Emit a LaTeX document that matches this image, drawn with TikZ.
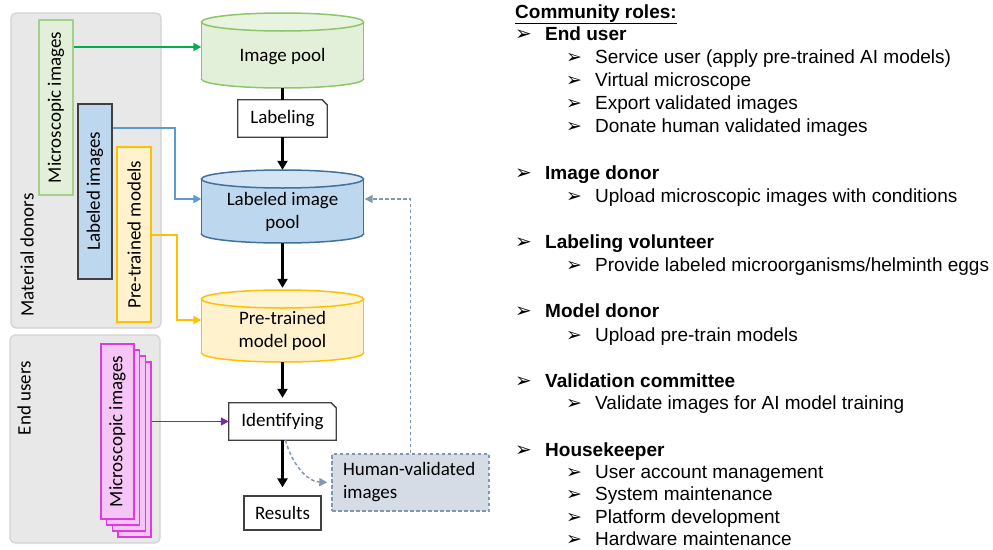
\documentclass[tikz,border=0pt]{standalone}
\usepackage{fontspec}
\setmainfont{Carlito}
\newfontfamily\arialf{Liberation Sans}
\newfontfamily\dejavuf{DejaVu Sans}
\usetikzlibrary{arrows.meta}
\definecolor{grnA}{HTML}{00B050}
\definecolor{grnF}{HTML}{E2F0D9}
\definecolor{grnT}{HTML}{E8F3E0}
\definecolor{grnB}{HTML}{8CC66B}
\definecolor{bluA}{HTML}{5B9BD5}
\definecolor{bluF}{HTML}{BDD7EE}
\definecolor{bluT}{HTML}{D3E4F4}
\definecolor{bluB}{HTML}{41719C}
\definecolor{yelA}{HTML}{FFC000}
\definecolor{yelF}{HTML}{FFF2CC}
\definecolor{yelT}{HTML}{FFF5D6}
\definecolor{purA}{HTML}{7030A0}
\definecolor{magF}{HTML}{F5C6F5}
\definecolor{magB}{HTML}{DC3CDC}
\definecolor{hvF}{HTML}{D6DCE5}
\definecolor{hvB}{HTML}{8497B0}
\definecolor{boxB}{HTML}{404040}
% cylinder: name, ytop, ybot, body fill, top fill, border
\newcommand\mycyl[6]{%
  \node[minimum width=162pt, minimum height={(#3-#2)*1pt}, inner sep=0pt] (#1) at (282.5,{(#2+#3)/2}) {};
  \filldraw[fill=#4, draw=#6, line width=1.5pt] (282.5,{#3-9}) ellipse [x radius=81, y radius=9];
  \fill[#4] (201.5,{#2+9}) rectangle (363.5,{#3-9});
  \draw[#6, line width=1.5pt] (201.5,{#2+9}) -- (201.5,{#3-9}) (363.5,{#2+9}) -- (363.5,{#3-9});
  \filldraw[fill=#5, draw=#6, line width=1.5pt] (282.5,{#2+9}) ellipse [x radius=81, y radius=9];
}
\newcommand\notedraw[1]{%
  \draw[line width=1.3pt, draw=boxB] (#1.south west) -- (#1.north west) -- ([xshift=-5pt]#1.north east) -- ([yshift=-5pt]#1.north east) -- (#1.south east) -- cycle;}
\newcommand\bulA[1]{\makebox[30pt][l]{\dejavuf\fontsize{20}{20}\selectfont ➢}\textbf{#1}}
\newcommand\bulB[1]{\makebox[29pt][l]{\dejavuf\fontsize{19}{19}\selectfont ➢}#1}
\begin{document}
\begin{tikzpicture}[x=1pt,y=-1pt,
  txt/.style={font=\fontsize{19}{23}\selectfont, inner sep=0pt, align=center},
  vbox/.style={rotate=90, minimum width=175pt, minimum height=34pt, inner sep=0pt, line width=1.4pt, font=\fontsize{19}{23}\selectfont},
  grp/.style={draw=gray!35, fill=gray!18, rounded corners=5pt, line width=1.2pt, inner sep=0pt},
  notebox/.style={minimum height=37pt, inner sep=0pt, font=\fontsize{19}{23}\selectfont},
  rt/.style={font=\arialf\fontsize{19}{23}\selectfont, anchor=base west, inner sep=0pt},
  blk/.style={line width=3pt, -{Triangle[length=9pt,width=10pt]}},
  colarr/.style={line width=1.7pt, -{Triangle[length=8pt,width=8pt]}},
  dsh/.style={draw=hvB, line width=1.5pt, dash pattern=on 3.5pt off 2.5pt, -{Triangle[length=8pt,width=8pt]}}]
\fill[white] (0,0) rectangle (993,549);
\useasboundingbox (0,0) rectangle (993,549);

% group boxes
\node[grp, minimum width=150pt, minimum height=315pt] (matg) at (86,170.5) {};
\node[grp, minimum width=150pt, minimum height=208pt] (endg) at (85,439) {};
\node[txt, rotate=90] (matl) at (27,255) {Material donors};
\node[txt, rotate=90] (endl) at (24,398) {End users};

% donor boxes
\node[vbox, draw=grnB!80, fill=grnF] (mic) at (56,107.5) {Microscopic images};
\node[vbox, draw=boxB, fill=bluF] (lab) at (95,191.5) {Labeled images};
\node[vbox, draw=yelA, fill=yelF] (pre) at (134,234.5) {Pre-trained models};

% end user stack
\node[vbox, minimum height=33pt, draw=magB, fill=magF] (m4) at (134.5,449.5) {};
\node[vbox, minimum height=33pt, draw=magB, fill=magF] (m3) at (128.8,443.5) {};
\node[vbox, minimum height=33pt, draw=magB, fill=magF] (m2) at (123.2,437.5) {};
\node[vbox, minimum height=33pt, draw=magB, fill=magF] (m1) at (117.5,431.5) {Microscopic images};

% cylinders
\mycyl{ipool}{13}{88}{grnF}{grnT}{grnB}
\mycyl{lpool}{170}{243}{bluF}{bluT}{bluB}
\mycyl{ppool}{290}{362}{yelF}{yelT}{yelA}
\node[txt] (ipoolt) at (282.5,57) {Image pool};
\node[txt] (lpoolt) at (282.5,212) {Labeled image\\pool};
\node[txt] (ppoolt) at (282.5,331) {Pre-trained\\model pool};

% process boxes
\node[notebox, minimum width=89pt] (lbl) at (282.5,118.5) {Labeling};
\notedraw{lbl}
\node[notebox, minimum width=107pt] (ident) at (282.5,421.5) {Identifying};
\notedraw{ident}
\node[txt, draw=boxB, line width=1.3pt, minimum width=77pt, minimum height=34pt] (res) at (282.5,513) {Results};
\node[txt, draw=hvB, fill=hvF, line width=1.4pt, dash pattern=on 3.5pt off 2.5pt, minimum width=157pt, minimum height=57pt, text width=135pt, align=left] (hv) at (410.5,482.5) {Human-validated\\images};

% black flow
\draw[line width=3pt] (ipool.south) -- (lbl.north);
\draw[blk] (lbl.south) -- (lpool.north);
\draw[blk, shorten >=2pt] (lpool.south) -- (ppool.north);
\draw[blk, shorten >=5pt] (ppool.south) -- (ident.north);
\draw[blk, shorten >=8pt] (ident.south) -- (res.north);

% colored inputs
\draw[colarr, grnA] (mic.south |- 0,47) -- ([yshift=3.5pt]ipool.west);
\draw[colarr, bluA] (lab.south |- 0,128) -- ++(62,0) |- ([yshift=7.5pt]lpool.west);
\draw[colarr, yelA] (pre.south |- 0,235) -- ++(25,0) |- ([yshift=6pt]ppool.west);
\draw[colarr, purA] (m4.south |- ident.west) -- (ident.west);

% feedback
\draw[dsh, shorten >=4pt] ([xshift=3pt]ident.south) to[out=-75,in=178] (hv.west);
\draw[dsh, shorten >=1pt] (hv.north) |- ([yshift=7.5pt]lpool.east);

% community roles
\node[rt] (r0) at (515,18) {\bfseries\underline{Community roles:}};
\node[rt] (r1) at (515,40) {\bulA{End user}};
\node[rt] (r2) at (566,63) {\bulB{Service user (apply pre-trained AI models)}};
\node[rt] (r3) at (566,86) {\bulB{Virtual microscope}};
\node[rt] (r4) at (566,109) {\bulB{Export validated images}};
\node[rt] (r5) at (566,132) {\bulB{Donate human validated images}};
\node[rt] (r6) at (515,179) {\bulA{Image donor}};
\node[rt] (r7) at (566,202) {\bulB{Upload microscopic images with conditions}};
\node[rt] (r8) at (515,248) {\bulA{Labeling volunteer}};
\node[rt] (r9) at (566,271) {\bulB{Provide labeled microorganisms/helminth eggs}};
\node[rt] (r10) at (515,317) {\bulA{Model donor}};
\node[rt] (r11) at (566,341) {\bulB{Upload pre-train models}};
\node[rt] (r12) at (515,387) {\bulA{Validation committee}};
\node[rt] (r13) at (566,409) {\bulB{Validate images for AI model training}};
\node[rt] (r14) at (515,456) {\bulA{Housekeeper}};
\node[rt] (r15) at (566,478) {\bulB{User account management}};
\node[rt] (r16) at (566,500.5) {\bulB{System maintenance}};
\node[rt] (r17) at (566,523) {\bulB{Platform development}};
\node[rt] (r18) at (566,545) {\bulB{Hardware maintenance}};
\end{tikzpicture}
\end{document}
